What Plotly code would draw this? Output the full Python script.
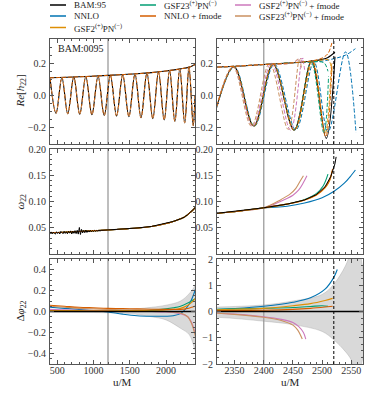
import plotly.graph_objects as go
from plotly.subplots import make_subplots

W, H = 374, 399

# colours (seaborn "colorblind")
C_BAM = '#000000'
C_NNLO = '#0173b2'
C_GSF2 = '#de8f05'
C_GSF23 = '#029e73'
C_NNLO_F = '#d55e00'
C_GSF2_F = '#cc78bc'
C_GSF23_F = '#ca9161'

# ---------------- Re[h22] : left column (inspiral), extrema
wave_l_u = [400, 483, 564, 645, 728, 810, 894, 978, 1063, 1148, 1233, 1318,
            1403, 1488, 1572, 1655, 1737, 1818, 1897, 1975, 2049, 2122, 2190,
            2258, 2317, 2375, 2400]
wave_l_y = [0.110, -0.110, 0.112, -0.113, 0.114, -0.116, 0.118, -0.119, 0.121,
            -0.123, 0.125, -0.127, 0.129, -0.131, 0.134, -0.137, 0.140, -0.143,
            0.147, -0.151, 0.155, -0.159, 0.164, -0.169, 0.176, -0.186, 0.0]

# amplitude |h22| (common part)
amp_u = [400, 800, 1200, 1600, 1800, 2000, 2200, 2320, 2400, 2450]
amp_y = [0.110, 0.116, 0.125, 0.135, 0.142, 0.152, 0.165, 0.176, 0.192, 0.203]
# amplitude tails near merger
amp_bam_u, amp_bam_y = [2480, 2500, 2510, 2522], [0.212, 0.224, 0.236, 0.268]
amp_nnlof_u, amp_nnlof_y = [2480, 2500, 2510, 2517], [0.213, 0.232, 0.26, 0.33]
amp_gsf2_u, amp_gsf2_y = [2480, 2500, 2510, 2514, 2517], [0.212, 0.22, 0.222, 0.2, 0.14]
amp_gsf23_u, amp_gsf23_y = [2480, 2495, 2504, 2510], [0.208, 0.21, 0.2, 0.15]
amp_nnlo_u, amp_nnlo_y = [2480, 2500, 2520, 2540, 2557], [0.207, 0.213, 0.228, 0.25, 0.29]
amp_gsf2f_u, amp_gsf2f_y = [2460, 2468], [0.225, 0.23]
amp_gsf23f_u, amp_gsf23f_y = [2458, 2464], [0.224, 0.228]

# Re[h22] : right column (merger), extrema per waveform
wave_bam_u = [2312, 2349, 2383, 2416, 2452, 2482, 2507, 2522]
wave_bam_y = [-0.172, 0.178, -0.189, 0.195, -0.214, 0.215, -0.265, 0.24]
wave_nnlof_u = [2312, 2349, 2383, 2416, 2452, 2482, 2506, 2517]
wave_nnlof_y = [-0.172, 0.178, -0.19, 0.196, -0.215, 0.216, -0.255, 0.2]
wave_gsf2_u = [2312, 2349, 2383, 2416, 2453, 2484, 2505, 2516]
wave_gsf2_y = [-0.172, 0.178, -0.19, 0.196, -0.213, 0.213, -0.235, 0.2]
wave_gsf23_u = [2312, 2349, 2383, 2416, 2452, 2481, 2503, 2511]
wave_gsf23_y = [-0.172, 0.178, -0.19, 0.195, -0.213, 0.21, -0.23, 0.12]
wave_nnlo_u = [2312, 2350, 2384, 2418, 2455, 2486, 2510, 2540, 2558]
wave_nnlo_y = [-0.172, 0.178, -0.19, 0.196, -0.212, 0.208, -0.225, 0.27, -0.23]
wave_gsf2f_u = [2312, 2348, 2381, 2413, 2446, 2466, 2470]
wave_gsf2f_y = [-0.172, 0.178, -0.19, 0.2, -0.215, 0.225, 0.16]
wave_gsf23f_u = [2312, 2347, 2379, 2410, 2442, 2461, 2465]
wave_gsf23f_y = [-0.172, 0.178, -0.19, 0.2, -0.21, 0.222, 0.16]

# ---------------- omega22
omega_u = [400, 600, 800, 1000, 1200, 1400, 1600, 1800, 2000, 2100, 2200,
           2250, 2300, 2320, 2360, 2400]
omega_y = [0.0405, 0.0415, 0.0428, 0.0442, 0.0457, 0.0475, 0.0495, 0.0525,
           0.058, 0.062, 0.067, 0.070, 0.075, 0.0775, 0.082, 0.088]
# noisy NR frequency at early times
om_noise_u = [400, 415, 430, 445, 460, 475, 490, 505, 520, 535, 550, 565, 580,
              595, 610, 625, 640, 655, 670, 685, 700, 715, 730, 745, 760, 775,
              790, 805, 820, 835, 850, 865, 880, 895, 910, 925, 940, 955, 970,
              985, 1000, 1015, 1030, 1045, 1060, 1075, 1090, 1105]
om_noise_y = [0.0392, 0.0421, 0.0384, 0.0418, 0.0395, 0.0379, 0.0424, 0.0390,
              0.0415, 0.0381, 0.0429, 0.0398, 0.0386, 0.0431, 0.0392, 0.0424,
              0.0385, 0.0433, 0.0397, 0.0440, 0.0381, 0.0436, 0.0394, 0.0445,
              0.0388, 0.0452, 0.0379, 0.0505, 0.0372, 0.0468, 0.0401, 0.0449,
              0.0405, 0.0456, 0.0410, 0.0447, 0.0418, 0.0452, 0.0421, 0.0446,
              0.0428, 0.0451, 0.0432, 0.0449, 0.0438, 0.0452, 0.0441, 0.0450]
om_bam_u, om_bam_y = [2440, 2470, 2490, 2505, 2515, 2522, 2524], [0.095, 0.103, 0.113, 0.128, 0.148, 0.172, 0.185]
om_nnlof_u, om_nnlof_y = [2440, 2470, 2490, 2505, 2513, 2518], [0.095, 0.103, 0.113, 0.127, 0.142, 0.162]
om_gsf2_u, om_gsf2_y = [2440, 2470, 2490, 2505, 2513, 2517], [0.095, 0.103, 0.112, 0.126, 0.14, 0.158]
om_gsf23_u, om_gsf23_y = [2440, 2470, 2490, 2502, 2510], [0.095, 0.104, 0.115, 0.13, 0.152]
om_nnlo_u, om_nnlo_y = [2440, 2470, 2500, 2521, 2538, 2550, 2557], [0.091, 0.097, 0.107, 0.12, 0.135, 0.15, 0.16]
om_gsf2f_u, om_gsf2f_y = [2434, 2450, 2460, 2468, 2474], [0.103, 0.112, 0.122, 0.136, 0.149]
om_gsf23f_u, om_gsf23f_y = [2430, 2445, 2455, 2463, 2468], [0.104, 0.114, 0.125, 0.14, 0.149]

# ---------------- delta phi22
dphi_u = [400, 600, 800, 1000, 1200, 1400, 1600, 1800, 2000, 2100, 2200, 2300, 2350, 2400]
dphi_nnlo = [0.04, 0.03, 0.02, 0.01, -0.005, -0.025, -0.04, -0.045, -0.045, -0.04, -0.02, 0.05, 0.11, 0.2]
dphi_gsf2 = [0.01, 0.01, 0.008, 0.007, 0.007, 0.008, 0.01, 0.012, 0.015, 0.02, 0.03, 0.06, 0.085, 0.12]
dphi_gsf23 = [0.0, 0.0, 0.0, 0.0, 0.0, 0.002, 0.005, 0.012, 0.025, 0.035, 0.05, 0.08, 0.1, 0.12]
dphi_nnlof = [0.06, 0.05, 0.04, 0.035, 0.03, 0.028, 0.025, 0.022, 0.02, 0.02, 0.02, 0.03, 0.04, 0.05]
dphi_gsf2f = [0.02, 0.015, 0.012, 0.01, 0.008, 0.006, 0.004, 0.0, -0.005, -0.01, -0.02, -0.05, -0.1, -0.2]
dphi_gsf23f = [0.05, 0.04, 0.03, 0.025, 0.02, 0.015, 0.012, 0.008, 0.0, -0.005, -0.015, -0.05, -0.11, -0.22]
dphi_nnlo_tu, dphi_nnlo_t = [2450, 2480, 2505, 2520, 2526], [0.35, 0.52, 0.85, 1.3, 1.6]
dphi_gsf2_tu, dphi_gsf2_t = [2450, 2480, 2505, 2518], [0.22, 0.3, 0.42, 0.5]
dphi_gsf23_tu, dphi_gsf23_t = [2450, 2480, 2500, 2510], [0.15, 0.19, 0.22, 0.2]
dphi_nnlof_tu, dphi_nnlof_t = [2450, 2480, 2505, 2518], [0.08, 0.12, 0.17, 0.2]
dphi_gsf2f_tu, dphi_gsf2f_t = [2430, 2450, 2460, 2468, 2472], [-0.3, -0.42, -0.58, -0.8, -1.05]
dphi_gsf23f_tu, dphi_gsf23f_t = [2430, 2450, 2458, 2466], [-0.34, -0.52, -0.7, -1.05]
bam_zero_u, bam_zero_y = [400, 2570], [0.0, 0.0]

# NR phase error band
band_u = [400, 800, 1200, 1500, 1800, 2000, 2200, 2320, 2400, 2450, 2500, 2520,
          2540, 2550, 2558, 2565, 2570]
band_hi = [0.005, 0.008, 0.012, 0.02, 0.04, 0.06, 0.1, 0.17, 0.25, 0.4, 0.65,
           1.04, 1.74, 2.3, 2.6, 2.2, 1.6]
band_lo = [-0.005, -0.008, -0.012, -0.02, -0.05, -0.08, -0.16, -0.22, -0.37,
           -0.5, -0.76, -1.08, -1.53, -1.85, -2.4, -2.2, -1.7]

u_ref_left, u_ref_right, u_merger = 1200, 2400, 2520

legend_labels = ['BAM:95', 'NNLO', 'GSF2<sup>(+)</sup>PN<sup>(−)</sup>',
                 'GSF23<sup>(+)</sup>PN<sup>(−)</sup>', 'NNLO + fmode',
                 'GSF2<sup>(+)</sup>PN<sup>(−)</sup> + fmode',
                 'GSF23<sup>(+)</sup>PN<sup>(−)</sup> + fmode']
legend_colors = [C_BAM, C_NNLO, C_GSF2, C_GSF23, C_NNLO_F, C_GSF2_F, C_GSF23_F]

# ---------------------------------------------------------------- figure
fig = make_subplots(rows=3, cols=2)
DASH = '4px,2px'


def add(x, y, color, row, col, dash=None, width=1.0, shape='spline'):
    fig.add_trace(go.Scatter(x=x, y=y, mode='lines', showlegend=False,
                             hoverinfo='skip',
                             line=dict(color=color, width=width, dash=dash,
                                       shape=shape)),
                  row=row, col=col)


# row 1, left: waveform + amplitude
add(wave_l_u, wave_l_y, C_BAM, 1, 1, width=1.1)
add(amp_u, amp_y, C_BAM, 1, 1, width=1.1)
add(wave_l_u, wave_l_y, C_NNLO_F, 1, 1, dash=DASH)
add(amp_u, amp_y, C_NNLO_F, 1, 1, dash=DASH)
add(wave_l_u, wave_l_y, C_GSF23_F, 1, 1, dash='2px,4px')

# row 1, right
add(wave_bam_u, wave_bam_y, C_BAM, 1, 2, width=1.1)
add(amp_u + amp_bam_u, amp_y + amp_bam_y, C_BAM, 1, 2, width=1.1)
right_waves = [
    (wave_nnlo_u, wave_nnlo_y, amp_nnlo_u, amp_nnlo_y, C_NNLO),
    (wave_gsf2_u, wave_gsf2_y, amp_gsf2_u, amp_gsf2_y, C_GSF2),
    (wave_gsf23_u, wave_gsf23_y, amp_gsf23_u, amp_gsf23_y, C_GSF23),
    (wave_gsf2f_u, wave_gsf2f_y, amp_gsf2f_u, amp_gsf2f_y, C_GSF2_F),
    (wave_gsf23f_u, wave_gsf23f_y, amp_gsf23f_u, amp_gsf23f_y, C_GSF23_F),
    (wave_nnlof_u, wave_nnlof_y, amp_nnlof_u, amp_nnlof_y, C_NNLO_F),
]
for wu, wy, au, ay, c in right_waves:
    add(wu, wy, c, 1, 2, dash=DASH)
    add(amp_u + au, amp_y + ay, c, 1, 2, dash=DASH)

# row 2: omega22
om_models = [
    (om_nnlo_u, om_nnlo_y, C_NNLO),
    (om_gsf2f_u, om_gsf2f_y, C_GSF2_F),
    (om_gsf23f_u, om_gsf23f_y, C_GSF23_F),
    (om_gsf23_u, om_gsf23_y, C_GSF23),
    (om_gsf2_u, om_gsf2_y, C_GSF2),
    (om_nnlof_u, om_nnlof_y, C_NNLO_F),
]
bam_om_u = om_noise_u + omega_u[4:] + om_bam_u
bam_om_y = om_noise_y + omega_y[4:] + om_bam_y
for col in (1, 2):
    for tu, ty, c in om_models:
        add(omega_u + tu, omega_y + ty, c, 2, col, width=1.1)
    add(bam_om_u, bam_om_y, C_BAM, 2, col, width=1.0, shape='linear')

# row 3: delta phi22
dphi_models = [
    (dphi_nnlo, dphi_nnlo_tu, dphi_nnlo_t, C_NNLO),
    (dphi_gsf2f, dphi_gsf2f_tu, dphi_gsf2f_t, C_GSF2_F),
    (dphi_gsf23f, dphi_gsf23f_tu, dphi_gsf23f_t, C_GSF23_F),
    (dphi_gsf23, dphi_gsf23_tu, dphi_gsf23_t, C_GSF23),
    (dphi_gsf2, dphi_gsf2_tu, dphi_gsf2_t, C_GSF2),
    (dphi_nnlof, dphi_nnlof_tu, dphi_nnlof_t, C_NNLO_F),
]
for col in (1, 2):
    fig.add_trace(go.Scatter(x=band_u, y=band_lo, mode='lines', showlegend=False,
                             hoverinfo='skip',
                             line=dict(color='rgba(140,140,140,0.6)', width=0.5,
                                       shape='spline')), row=3, col=col)
    fig.add_trace(go.Scatter(x=band_u, y=band_hi, mode='lines', showlegend=False,
                             hoverinfo='skip', fill='tonexty',
                             fillcolor='rgba(160,160,160,0.4)',
                             line=dict(color='rgba(140,140,140,0.6)', width=0.5,
                                       shape='spline')), row=3, col=col)
    for y0, tu, ty, c in dphi_models:
        add(dphi_u + tu, y0 + ty, c, 3, col, width=1.1)
    add(bam_zero_u, bam_zero_y, C_BAM, 3, col, width=1.5, shape='linear')

# reference lines
for r in (1, 2, 3):
    fig.add_vline(x=u_ref_left, row=r, col=1, line=dict(color='#a8a8a8', width=1.5), layer='below')
    fig.add_vline(x=u_ref_right, row=r, col=2, line=dict(color='#a8a8a8', width=1.5), layer='below')
    fig.add_vline(x=u_merger, row=r, col=2, line=dict(color='black', width=1, dash='3px,2px'))

# ---------------------------------------------------------------- axes
FONT = 'Liberation Serif'
AX = '#555555'
axis_common = dict(showline=True, linecolor=AX, linewidth=1, mirror='allticks',
                   ticks='inside', ticklen=4, tickcolor=AX, tickwidth=1,
                   showgrid=False, zeroline=False, automargin=False,
                   tickfont=dict(family=FONT, size=10, color='#333333'))
fig.update_xaxes(**axis_common, ticklabelstandoff=-3)
fig.update_yaxes(**axis_common, ticklabelstandoff=1)

XL = [50 / W, 195 / W]
XR = [217 / W, 363 / W]
YT = [1 - 144 / H, 1 - 39 / H]
YM = [1 - 254 / H, 1 - 149 / H]
YB = [1 - 364 / H, 1 - 259 / H]

left_x = dict(domain=XL, range=[400, 2400], tick0=500, dtick=500,
              minor=dict(ticks='inside', ticklen=2, tickcolor=AX, dtick=100, tick0=0))
right_x = dict(domain=XR, range=[2320, 2570], tick0=2350, dtick=50,
               minor=dict(ticks='inside', ticklen=2, tickcolor=AX, dtick=10, tick0=0))
fig.update_layout(
    xaxis=dict(left_x, showticklabels=False),
    xaxis2=dict(right_x, showticklabels=False),
    xaxis3=dict(left_x, showticklabels=False),
    xaxis4=dict(right_x, showticklabels=False),
    xaxis5=dict(left_x),
    xaxis6=dict(right_x),
)

top_y = dict(domain=YT, range=[-0.3, 0.35], tick0=0, dtick=0.2, tickformat='.1f',
             minor=dict(ticks='inside', ticklen=2, tickcolor=AX, dtick=0.05, tick0=0))
mid_y = dict(domain=YM, range=[0, 0.2], tickvals=[0.05, 0.1, 0.15, 0.2],
             tickformat='.2f',
             minor=dict(ticks='inside', ticklen=2, tickcolor=AX, dtick=0.01, tick0=0))
fig.update_layout(
    yaxis=top_y, yaxis2=top_y, yaxis3=mid_y, yaxis4=mid_y,
    yaxis5=dict(domain=YB, range=[-0.5, 0.5], tick0=0, dtick=0.2, tickformat='.1f',
                minor=dict(ticks='inside', ticklen=2, tickcolor=AX, dtick=0.05, tick0=0)),
    yaxis6=dict(domain=YB, range=[-2, 2], tick0=0, dtick=1,
                minor=dict(ticks='inside', ticklen=2, tickcolor=AX, dtick=0.25, tick0=0)),
)

# ---------------------------------------------------------------- text
ann = []
title_font = dict(family=FONT, size=11, color='#222222')
for text, yc in [('<i>Re</i>[<i>h</i><sub>22</sub>]', 91.5),
                 ('<i>ω</i><sub>22</sub>', 201.5),
                 ('Δ<i>φ</i><sub>22</sub>', 311.5)]:
    ann.append(dict(text=text, x=20 / W, y=1 - yc / H, xref='paper', yref='paper',
                    textangle=-90, showarrow=False, font=title_font,
                    xanchor='center', yanchor='middle'))
for xc in (122.5, 290):
    ann.append(dict(text='u/M', x=xc / W, y=1 - 382 / H, xref='paper', yref='paper',
                    showarrow=False, font=title_font, xanchor='center', yanchor='middle'))
ann.append(dict(text='BAM:0095', x=56 / W, y=1 - 49 / H, xref='paper', yref='paper',
                showarrow=False, font=dict(family=FONT, size=10, color='#222222'),
                xanchor='left', yanchor='middle'))

# hand-placed legend: three columns, filled column by column
leg_cols = [50, 140, 235]
leg_rows = [5, 16, 27.5]
slots = [(0, 0), (0, 1), (0, 2), (1, 0), (1, 1), (2, 0), (2, 1)]
for (ci, ri), label, color in zip(slots, legend_labels, legend_colors):
    x0 = leg_cols[ci]
    yy = 1 - leg_rows[ri] / H
    fig.add_shape(type='line', xref='paper', yref='paper', x0=x0 / W, x1=(x0 + 16) / W,
                  y0=yy, y1=yy, line=dict(color=color, width=1.5))
    ann.append(dict(text=label, x=(x0 + 22) / W, y=yy, xref='paper', yref='paper',
                    showarrow=False, font=dict(family=FONT, size=9, color='#222222'),
                    xanchor='left', yanchor='middle'))

fig.update_layout(
    annotations=ann,
    width=W, height=H,
    margin=dict(l=0, r=0, t=0, b=0),
    plot_bgcolor='white', paper_bgcolor='white',
    showlegend=False,
    font=dict(family=FONT),
)

# the page's default body margin would shift the 374x399 figure out of the window
fig.write_html("out.html", config={'displayModeBar': False},
               post_script="document.body.style.margin='0';")
